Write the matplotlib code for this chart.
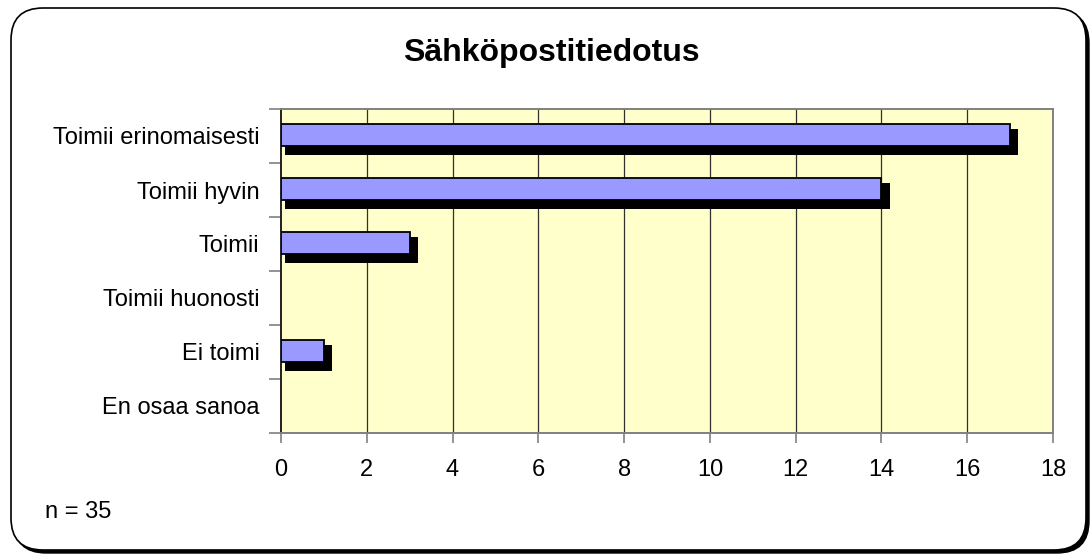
import matplotlib
matplotlib.use("Agg")
import matplotlib.pyplot as plt
from matplotlib.patches import FancyBboxPatch
from matplotlib.ticker import FixedLocator

categories = ["Toimii erinomaisesti", "Toimii hyvin", "Toimii", "Toimii huonosti", "Ei toimi", "En osaa sanoa"]
values = [17, 14, 3, 0, 1, 0]
xticks = [0, 2, 4, 6, 8, 10, 12, 14, 16, 18]
title = "Sähköpostitiedotus"
note = "n = 35"

plt.rcParams['font.family'] = ['Liberation Sans', 'DejaVu Sans']

fig = plt.figure(figsize=(10.92, 5.6), dpi=100)
fig.patch.set_facecolor('white')

# rounded border with shadow
shadow = FancyBboxPatch((0.14, 0.07), 10.75, 5.42, boxstyle="round,pad=0,rounding_size=0.32",
                        transform=fig.dpi_scale_trans, facecolor='black', edgecolor='black', lw=1.0, zorder=0)
border = FancyBboxPatch((0.11, 0.10), 10.75, 5.42, boxstyle="round,pad=0,rounding_size=0.32",
                        transform=fig.dpi_scale_trans, facecolor='white', edgecolor='black', lw=1.2, zorder=1)
fig.patches.extend([shadow, border])

ax = fig.add_axes([281/1092, 1-433/560, (1053-281)/1092, (433-109)/560])
ax.set_zorder(2)
ax.set_facecolor('#FFFFCC')

ypos = list(range(len(categories)))
bar_y = [y for y, v in zip(ypos, values) if v > 0]
bar_v = [v for v in values if v > 0]
ax.barh([y + 0.11 for y in bar_y], [v + 0.10 for v in bar_v], left=0.09, height=0.48,
        color='black', edgecolor='none', zorder=3)
ax.barh([y - 0.02 for y in bar_y], bar_v, height=0.41, color='#9999FF', edgecolor='black',
        linewidth=1.3, zorder=4)

ax.set_xlim(0, 18)
ax.set_ylim(len(categories) - 0.5, -0.5)
ax.set_xticks(xticks)
ax.set_xticklabels([str(t) for t in xticks], fontsize=17)
ax.set_yticks(ypos)
ax.set_yticklabels(categories, fontsize=17)
ax.yaxis.set_minor_locator(FixedLocator([i - 0.5 for i in range(len(categories) + 1)]))
ax.tick_params(axis='y', which='major', length=0, pad=15.5)
ax.tick_params(axis='y', which='minor', length=9, width=1.2, color='#808080', direction='out')
ax.tick_params(axis='x', which='major', length=7, width=1.2, color='#808080', direction='out', pad=12)

for x in xticks[1:-1]:
    ax.axvline(x, color='#303030', lw=0.9, zorder=1)

for s in ['top', 'right', 'bottom']:
    ax.spines[s].set_color('#808080')
    ax.spines[s].set_linewidth(1.4)
ax.spines['left'].set_color('#202020')
ax.spines['left'].set_linewidth(1.4)

fig.text(551/1092, 1-53/560, title, fontsize=23, fontweight='bold', ha='center', va='center', zorder=5)
fig.text(45/1092, 1-512/560, note, fontsize=17, ha='left', va='center', zorder=5)

fig.savefig("out.png", dpi=100)
